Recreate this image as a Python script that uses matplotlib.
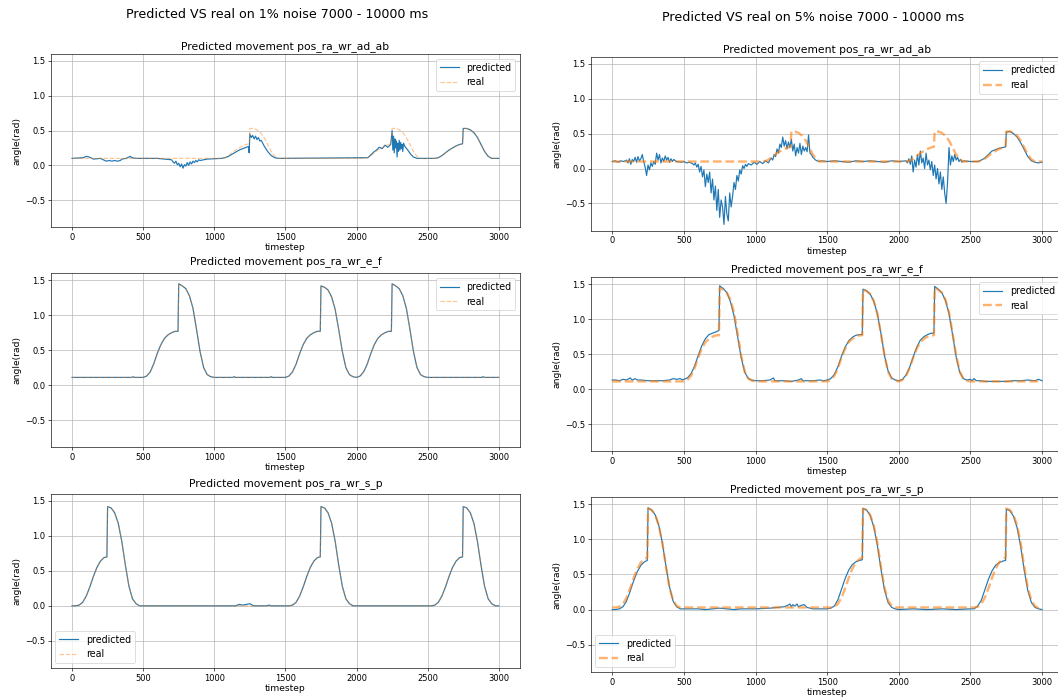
import matplotlib
matplotlib.use("Agg")
import matplotlib.pyplot as plt

# ---------------- data ----------------
suptitles = ["Predicted VS real on 1% noise 7000 - 10000 ms",
             "Predicted VS real on 5% noise 7000 - 10000 ms"]
joints = ["pos_ra_wr_ad_ab", "pos_ra_wr_e_f", "pos_ra_wr_s_p"]

# real (ground truth) curves
real_ad_ab_t = [0, 1050, 1075, 1100, 1125, 1150, 1175, 1200, 1225, 1245, 1250, 1275, 1300, 1325, 1350, 1375, 1400, 1425, 1450,
                2050, 2075, 2100, 2125, 2150, 2175, 2200, 2225, 2245, 2250, 2275, 2300, 2325, 2350, 2375, 2400, 2425, 2450,
                2550, 2575, 2600, 2625, 2650, 2675, 2700, 2725, 2745, 2750, 2775, 2800, 2825, 2850, 2875, 2900, 2925, 2950, 2999]
real_ad_ab_v = [0.10, 0.10, 0.11, 0.14, 0.18, 0.22, 0.25, 0.28, 0.30, 0.31, 0.53, 0.53, 0.51, 0.47, 0.40, 0.30, 0.20, 0.13, 0.10,
                0.10, 0.11, 0.14, 0.18, 0.22, 0.25, 0.28, 0.30, 0.31, 0.53, 0.53, 0.51, 0.47, 0.40, 0.30, 0.20, 0.13, 0.10,
                0.10, 0.11, 0.14, 0.18, 0.22, 0.25, 0.28, 0.30, 0.31, 0.53, 0.53, 0.51, 0.47, 0.40, 0.30, 0.20, 0.13, 0.10, 0.10]

real_e_f_t = [0, 500, 525, 550, 575, 600, 625, 650, 675, 700, 725, 745, 750, 775, 800, 825, 850, 875, 900, 925, 950, 975, 1000,
              1500, 1525, 1550, 1575, 1600, 1625, 1650, 1675, 1700, 1725, 1745, 1750, 1775, 1800, 1825, 1850, 1875, 1900, 1925, 1950, 1975,
              2000, 2025, 2050, 2075, 2100, 2125, 2150, 2175, 2200, 2225, 2245, 2250, 2275, 2300, 2325, 2350, 2375, 2400, 2425, 2450, 2475, 2500,
              2999]
real_e_f_v = [0.11, 0.11, 0.13, 0.19, 0.30, 0.45, 0.58, 0.67, 0.72, 0.75, 0.77, 0.77, 1.45, 1.42, 1.38, 1.28, 1.10, 0.80, 0.48, 0.25, 0.15, 0.12, 0.11,
              0.11, 0.13, 0.19, 0.30, 0.45, 0.58, 0.67, 0.72, 0.75, 0.77, 0.77, 1.42, 1.40, 1.36, 1.26, 1.08, 0.79, 0.48, 0.25, 0.15, 0.12,
              0.11, 0.13, 0.19, 0.30, 0.45, 0.58, 0.67, 0.72, 0.75, 0.77, 0.77, 1.45, 1.42, 1.38, 1.28, 1.10, 0.80, 0.48, 0.25, 0.15, 0.12, 0.11,
              0.11]

real_s_p_t = [0, 25, 50, 75, 100, 125, 150, 175, 200, 225, 245, 250, 275, 300, 325, 350, 375, 400, 425, 450, 475,
              1500, 1525, 1550, 1575, 1600, 1625, 1650, 1675, 1700, 1725, 1745, 1750, 1775, 1800, 1825, 1850, 1875, 1900, 1925, 1950, 1975,
              2500, 2525, 2550, 2575, 2600, 2625, 2650, 2675, 2700, 2725, 2745, 2750, 2775, 2800, 2825, 2850, 2875, 2900, 2925, 2950, 2975, 2999]
real_s_p_v = [0.00, 0.00, 0.01, 0.05, 0.14, 0.27, 0.42, 0.55, 0.64, 0.69, 0.70, 1.42, 1.40, 1.33, 1.18, 0.92, 0.58, 0.28, 0.10, 0.03, 0.00,
              0.00, 0.00, 0.01, 0.05, 0.14, 0.27, 0.42, 0.55, 0.64, 0.69, 0.70, 1.42, 1.40, 1.33, 1.18, 0.92, 0.58, 0.28, 0.10, 0.03, 0.00,
              0.00, 0.00, 0.01, 0.05, 0.14, 0.27, 0.42, 0.55, 0.64, 0.69, 0.70, 1.42, 1.40, 1.33, 1.18, 0.92, 0.58, 0.28, 0.10, 0.03, 0.00, 0.00]

# real curve as drawn in the 5% panel of s_p (sits slightly higher)
real5_s_p_t = real_s_p_t
real5_s_p_v = [0.03, 0.03, 0.04, 0.08, 0.17, 0.30, 0.45, 0.58, 0.67, 0.72, 0.74, 1.44, 1.42, 1.35, 1.20, 0.95, 0.61, 0.31, 0.13, 0.05, 0.03,
               0.03, 0.03, 0.04, 0.08, 0.17, 0.30, 0.45, 0.58, 0.67, 0.72, 0.74, 1.44, 1.42, 1.35, 1.20, 0.95, 0.61, 0.31, 0.13, 0.05, 0.03,
               0.03, 0.03, 0.04, 0.08, 0.17, 0.30, 0.45, 0.58, 0.67, 0.72, 0.74, 1.44, 1.42, 1.35, 1.20, 0.95, 0.61, 0.31, 0.13, 0.05, 0.02, 0.01]

# predicted, 1% noise
pred1_ad_ab_t = [0, 80, 100, 120, 150, 200, 230, 240, 260, 280, 300, 320, 340, 350, 380, 400, 410, 420, 450, 600, 650, 700,
                 710, 720, 730, 740, 750, 760, 770, 780, 790, 800, 810, 820, 830, 840, 850, 860, 870, 880, 890, 900, 950,
                 1050, 1075, 1100, 1125, 1150, 1175, 1200, 1225, 1240, 1245, 1250, 1260, 1270, 1280, 1290, 1300, 1310, 1320, 1330,
                 1350, 1375, 1400, 1425, 1450,
                 2080, 2100, 2120, 2140, 2160, 2180, 2200, 2220, 2240, 2250, 2255, 2260, 2265, 2270, 2275, 2280, 2285, 2290, 2295,
                 2300, 2305, 2310, 2315, 2320, 2325, 2330, 2340, 2360, 2380, 2400, 2425, 2450,
                 2550, 2575, 2600, 2625, 2650, 2675, 2700, 2725, 2745, 2750, 2775, 2800, 2825, 2850, 2875, 2900, 2925, 2950, 2999]
pred1_ad_ab_v = [0.10, 0.11, 0.13, 0.12, 0.09, 0.10, 0.07, 0.06, 0.07, 0.06, 0.07, 0.06, 0.07, 0.09, 0.10, 0.12, 0.13, 0.11, 0.10, 0.10, 0.09, 0.08,
                 0.05, 0.03, 0.06, 0.01, 0.03, -0.02, 0.02, -0.04, 0.01, -0.01, 0.04, 0.00, 0.05, 0.02, 0.06, 0.04, 0.07, 0.05, 0.08, 0.07, 0.09,
                 0.10, 0.11, 0.13, 0.16, 0.19, 0.22, 0.24, 0.26, 0.27, 0.18, 0.45, 0.40, 0.43, 0.38, 0.42, 0.37, 0.40, 0.35, 0.36,
                 0.28, 0.20, 0.14, 0.11, 0.10,
                 0.11, 0.15, 0.19, 0.22, 0.26, 0.24, 0.29, 0.26, 0.30, 0.50, 0.22, 0.42, 0.18, 0.38, 0.25, 0.35, 0.12, 0.32, 0.20,
                 0.36, 0.22, 0.33, 0.24, 0.30, 0.20, 0.32, 0.27, 0.22, 0.16, 0.12, 0.10, 0.10,
                 0.10, 0.11, 0.14, 0.18, 0.22, 0.25, 0.28, 0.30, 0.31, 0.53, 0.53, 0.51, 0.47, 0.40, 0.30, 0.20, 0.13, 0.10, 0.10]

pred1_e_f_t = [0, 420, 430, 440, 500, 525, 550, 575, 600, 625, 650, 675, 700, 725, 745, 750, 775, 800, 825, 850, 875, 900, 925, 950, 975, 1000,
               1130, 1140, 1150, 1390, 1400, 1410,
               1500, 1525, 1550, 1575, 1600, 1625, 1650, 1675, 1700, 1725, 1745, 1750, 1775, 1800, 1825, 1850, 1875, 1900, 1925, 1950, 1975,
               2000, 2025, 2050, 2075, 2100, 2125, 2150, 2175, 2200, 2225, 2245, 2250, 2275, 2300, 2325, 2350, 2375, 2400, 2425, 2450, 2475, 2500,
               2880, 2890, 2900, 2999]
pred1_e_f_v = [0.11, 0.11, 0.12, 0.11, 0.11, 0.13, 0.19, 0.31, 0.46, 0.58, 0.67, 0.72, 0.75, 0.77, 0.77, 1.45, 1.42, 1.38, 1.28, 1.10, 0.80, 0.48, 0.25, 0.15, 0.12, 0.11,
               0.11, 0.12, 0.11, 0.11, 0.12, 0.11,
               0.11, 0.13, 0.19, 0.30, 0.45, 0.58, 0.67, 0.72, 0.75, 0.77, 0.77, 1.42, 1.40, 1.36, 1.26, 1.08, 0.79, 0.48, 0.25, 0.15, 0.12,
               0.11, 0.13, 0.19, 0.30, 0.45, 0.58, 0.67, 0.72, 0.75, 0.77, 0.77, 1.45, 1.42, 1.38, 1.28, 1.10, 0.80, 0.48, 0.25, 0.15, 0.12, 0.11,
               0.11, 0.12, 0.11, 0.11]

pred1_s_p_t = [0, 25, 50, 75, 100, 125, 150, 175, 200, 225, 245, 250, 275, 300, 325, 350, 375, 400, 425, 450, 475,
               1150, 1175, 1200, 1225, 1250, 1275, 1370, 1385, 1400,
               1500, 1525, 1550, 1575, 1600, 1625, 1650, 1675, 1700, 1725, 1745, 1750, 1775, 1800, 1825, 1850, 1875, 1900, 1925, 1950, 1975,
               2500, 2525, 2550, 2575, 2600, 2625, 2650, 2675, 2700, 2725, 2745, 2750, 2775, 2800, 2825, 2850, 2875, 2900, 2925, 2950, 2975, 2999]
pred1_s_p_v = [0.00, 0.00, 0.01, 0.05, 0.14, 0.27, 0.42, 0.55, 0.64, 0.69, 0.70, 1.42, 1.40, 1.33, 1.18, 0.92, 0.58, 0.28, 0.10, 0.03, 0.00,
               0.00, 0.02, 0.01, 0.02, 0.03, 0.00, 0.00, 0.01, 0.00,
               0.00, 0.00, 0.01, 0.05, 0.14, 0.27, 0.42, 0.55, 0.64, 0.69, 0.70, 1.42, 1.40, 1.33, 1.18, 0.92, 0.58, 0.28, 0.10, 0.03, 0.00,
               0.00, 0.00, 0.01, 0.05, 0.14, 0.27, 0.42, 0.55, 0.64, 0.69, 0.70, 1.42, 1.40, 1.33, 1.18, 0.92, 0.58, 0.28, 0.10, 0.03, 0.00, 0.00]

# predicted, 5% noise
pred5_ad_ab_t = [0, 20, 40, 60, 80, 100,
                 110, 120, 130, 140, 150, 160, 170, 180, 190, 200, 210, 220, 230, 240, 250, 260, 270, 280, 290, 300,
                 310, 320, 330, 340, 350, 360, 370, 380, 390, 400, 410, 420, 430, 440, 450,
                 480, 500, 520, 540, 560,
                 570, 580, 590, 600, 610, 620, 630, 640, 650, 660, 670, 680, 690, 700, 710, 720, 730, 740, 750, 760,
                 770, 780, 790, 800, 810, 820, 830, 840, 850, 860, 870, 880, 890, 900, 910, 920, 930, 940, 950,
                 970, 990, 1010, 1030, 1050, 1070, 1090, 1100,
                 1110, 1120, 1130, 1140, 1150, 1160, 1170, 1180, 1190, 1200, 1210, 1220, 1230, 1240, 1250,
                 1260, 1270, 1280, 1290, 1300, 1310, 1320, 1330, 1340, 1350, 1360, 1370, 1380,
                 1390, 1400, 1410, 1420, 1440, 1460,
                 1500, 1550, 1600, 1650, 1700, 1750, 1800, 1850, 1900, 1950, 2000, 2050,
                 2060, 2070, 2080, 2090, 2100, 2110, 2120, 2130, 2140, 2150, 2160, 2170, 2180, 2190, 2200, 2210, 2220, 2230, 2240, 2250,
                 2260, 2270, 2280, 2290, 2300, 2310, 2320, 2330, 2340, 2350, 2360, 2370, 2380, 2390, 2400, 2410, 2420, 2430, 2440, 2450,
                 2500, 2550, 2575, 2600, 2625, 2650, 2675, 2700, 2725, 2745, 2750, 2775, 2800, 2825, 2850, 2875, 2900, 2925, 2950, 2975, 2999]
pred5_ad_ab_v = [0.10, 0.11, 0.09, 0.11, 0.10, 0.12,
                 0.08, 0.14, 0.06, 0.13, 0.10, 0.16, 0.09, 0.17, 0.11, 0.14, 0.20, 0.10, 0.02, -0.10, 0.05, -0.02, 0.08, 0.03, 0.10, 0.06,
                 0.22, 0.12, 0.20, 0.08, 0.15, 0.10, 0.18, 0.12, 0.16, 0.09, 0.14, 0.10, 0.13, 0.11, 0.10,
                 0.09, 0.10, 0.08, 0.09, 0.07,
                 0.05, 0.08, 0.02, 0.06, -0.05, 0.03, -0.12, -0.02, -0.26, -0.08, -0.20, -0.05, -0.35, -0.15, -0.45, -0.25, -0.60, -0.30, -0.70, -0.45,
                 -0.55, -0.80, -0.40, -0.65, -0.75, -0.35, -0.55, -0.40, -0.20, -0.30, -0.10, -0.18, -0.02, -0.08, 0.04, 0.00, 0.06, 0.03, 0.07,
                 0.05, 0.09, 0.06, 0.10, 0.07, 0.11, 0.08, 0.12,
                 0.15, 0.12, 0.20, 0.17, 0.28, 0.22, 0.35, 0.30, 0.45, 0.32, 0.40, 0.28, 0.38, 0.30, 0.42,
                 0.25, 0.35, 0.18, 0.30, 0.22, 0.36, 0.20, 0.32, 0.25, 0.30, 0.24, 0.48, 0.22,
                 0.20, 0.16, 0.14, 0.12, 0.10, 0.11,
                 0.10, 0.11, 0.10, 0.09, 0.11, 0.10, 0.11, 0.10, 0.09, 0.11, 0.10, 0.11,
                 0.08, 0.14, 0.06, 0.18, -0.05, 0.12, 0.02, 0.20, 0.05, 0.25, 0.08, 0.15, 0.00, 0.22, 0.05, 0.12, -0.02, 0.10, -0.10, 0.05,
                 -0.15, 0.00, -0.22, -0.05, -0.30, -0.12, -0.35, -0.50, -0.20, 0.30, 0.05, 0.18, 0.10, 0.20, 0.12, 0.16, 0.10, 0.13, 0.09, 0.11,
                 0.10, 0.10, 0.12, 0.15, 0.20, 0.25, 0.27, 0.29, 0.30, 0.31, 0.52, 0.53, 0.50, 0.45, 0.37, 0.27, 0.17, 0.11, 0.09, 0.08, 0.09]

pred5_e_f_t = [0, 25, 50, 75, 100, 125, 140, 160, 175, 200, 250, 300, 350, 400, 425, 450, 475, 490,
               500, 525, 550, 575, 600, 625, 650, 675, 700, 725, 745, 750, 760, 775, 800, 825, 850, 875, 900, 925, 950, 975, 1000,
               1050, 1100, 1125, 1135, 1200, 1250, 1300, 1320, 1330, 1400, 1450, 1475,
               1500, 1525, 1550, 1575, 1600, 1625, 1650, 1675, 1700, 1725, 1745, 1750, 1775, 1800, 1825, 1850, 1875, 1900, 1925, 1950, 1975,
               2000, 2025, 2050, 2075, 2100, 2125, 2150, 2175, 2200, 2225, 2245, 2250, 2275, 2300, 2325, 2350, 2375, 2400, 2425, 2450, 2475,
               2500, 2510, 2525, 2540, 2575, 2600, 2650, 2700, 2750, 2800, 2850, 2900, 2950, 2975, 2999]
pred5_e_f_v = [0.13, 0.13, 0.12, 0.14, 0.13, 0.16, 0.13, 0.15, 0.13, 0.13, 0.12, 0.12, 0.12, 0.13, 0.15, 0.14, 0.15, 0.13,
               0.14, 0.16, 0.22, 0.33, 0.48, 0.62, 0.72, 0.78, 0.80, 0.82, 0.84, 1.48, 1.46, 1.44, 1.38, 1.25, 1.05, 0.75, 0.45, 0.24, 0.15, 0.13, 0.12,
               0.12, 0.13, 0.16, 0.12, 0.12, 0.11, 0.13, 0.15, 0.12, 0.12, 0.13, 0.12,
               0.13, 0.15, 0.21, 0.32, 0.47, 0.60, 0.69, 0.74, 0.77, 0.78, 0.78, 1.43, 1.41, 1.36, 1.26, 1.08, 0.80, 0.48, 0.26, 0.16, 0.13,
               0.12, 0.14, 0.20, 0.31, 0.46, 0.60, 0.70, 0.75, 0.78, 0.80, 0.80, 1.47, 1.43, 1.38, 1.27, 1.08, 0.78, 0.46, 0.24, 0.15, 0.13,
               0.14, 0.12, 0.15, 0.12, 0.12, 0.11, 0.11, 0.11, 0.11, 0.12, 0.12, 0.13, 0.12, 0.14, 0.12]

pred5_s_p_t = [0, 25, 50, 75, 100, 125, 150, 175, 200, 225, 245, 250, 275, 300, 325, 350, 375, 400, 425, 450, 475,
               500, 600, 650, 700, 750, 800, 850, 900, 1000, 1100, 1150, 1200, 1225, 1240, 1250, 1260, 1275, 1290, 1300, 1320, 1340, 1360,
               1400, 1450, 1500,
               1525, 1550, 1575, 1600, 1625, 1650, 1675, 1700, 1725, 1745, 1750, 1775, 1800, 1825, 1850, 1875, 1900, 1925, 1950, 1975,
               2000, 2100, 2200, 2300, 2400, 2500,
               2525, 2550, 2575, 2600, 2625, 2650, 2675, 2700, 2725, 2745, 2750, 2775, 2800, 2825, 2850, 2875, 2900, 2925, 2950, 2975, 2999]
pred5_s_p_v = [0.00, 0.00, 0.01, 0.04, 0.12, 0.26, 0.41, 0.54, 0.63, 0.68, 0.70, 1.45, 1.42, 1.35, 1.20, 0.95, 0.62, 0.32, 0.12, 0.04, 0.01,
               0.01, 0.01, 0.00, 0.01, 0.02, 0.01, 0.00, 0.01, 0.01, 0.02, 0.03, 0.04, 0.06, 0.08, 0.04, 0.07, 0.05, 0.08, 0.04, 0.06, 0.07, 0.03,
               0.01, 0.01, 0.01,
               0.02, 0.05, 0.14, 0.29, 0.44, 0.56, 0.64, 0.68, 0.70, 0.71, 1.44, 1.42, 1.34, 1.18, 0.92, 0.58, 0.28, 0.10, 0.03, 0.01,
               0.00, 0.01, 0.00, 0.01, 0.00, 0.01,
               0.01, 0.05, 0.13, 0.28, 0.43, 0.55, 0.63, 0.67, 0.69, 0.70, 1.43, 1.41, 1.33, 1.17, 0.90, 0.56, 0.27, 0.10, 0.03, 0.01, 0.00]

yticks = [-0.5, 0.0, 0.5, 1.0, 1.5]
xticks = [0, 500, 1000, 1500, 2000, 2500, 3000]

# ---------------- figure ----------------
DPI = 57
fig = plt.figure(figsize=(1058 / DPI, 699 / DPI), dpi=DPI)
W, H = 1058.0, 699.0

def px_axes(x0, x1, y0, y1):
    return fig.add_axes([x0 / W, 1 - y1 / H, (x1 - x0) / W, (y1 - y0) / H])

columns = [
    dict(x=(50.7, 520.0), rows=[(54, 227.3), (273.3, 447.3), (494, 668)],
         title_y=[46.5, 261.5, 484.0],
         pred=[(pred1_ad_ab_t, pred1_ad_ab_v), (pred1_e_f_t, pred1_e_f_v), (pred1_s_p_t, pred1_s_p_v)],
         real=[(real_ad_ab_t, real_ad_ab_v), (real_e_f_t, real_e_f_v), (real_s_p_t, real_s_p_v)],
         real_lw=1.5, real_alpha=0.45),
    dict(x=(590.7, 1063.5), rows=[(56.7, 230.7), (277.3, 451.3), (497.3, 672)],
         title_y=[50.0, 269.3, 489.3],
         pred=[(pred5_ad_ab_t, pred5_ad_ab_v), (pred5_e_f_t, pred5_e_f_v), (pred5_s_p_t, pred5_s_p_v)],
         real=[(real_ad_ab_t, real_ad_ab_v), (real_e_f_t, real_e_f_v), (real5_s_p_t, real5_s_p_v)],
         real_lw=3.0, real_alpha=0.6),
]

for c, col in enumerate(columns):
    for r in range(3):
        y0, y1 = col["rows"][r]
        ax = px_axes(col["x"][0], col["x"][1], y0, y1)
        pt, pv = col["pred"][r]
        rt, rv = col["real"][r]
        ax.plot(pt, pv, color="#1f77b4", lw=1.5, label="predicted")
        ax.plot(rt, rv, color="#ff7f0e", ls="--", lw=col["real_lw"], alpha=col["real_alpha"], label="real")
        ax.set_xlim(-150, 3149)
        ax.set_ylim(-0.89, 1.6)
        ax.set_xticks(xticks)
        ax.set_yticks(yticks)
        ax.grid(True, color="#b0b0b0", lw=0.8)
        ax.set_xlabel("timestep", fontsize=11.5, labelpad=2)
        ax.set_ylabel("angle(rad)", fontsize=11.5)
        ax.tick_params(labelsize=10.5)
        ax.legend(loc="upper right" if r < 2 else "lower left", fontsize=12)
        xc = (col["x"][0] + col["x"][1]) / 2
        fig.text(xc / W, 1 - col["title_y"][r] / H, "Predicted movement " + joints[r],
                 ha="center", va="center", fontsize=13.6)

fig.text(277 / W, 1 - 14 / H, suptitles[0], ha="center", va="center", fontsize=15.9)
fig.text(813 / W, 1 - 17.3 / H, suptitles[1], ha="center", va="center", fontsize=15.9)

fig.savefig("out.png", dpi=DPI)
